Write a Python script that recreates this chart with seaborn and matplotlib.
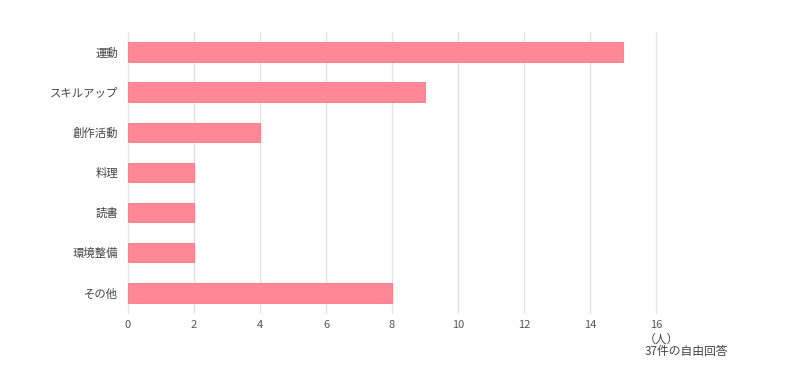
import matplotlib
matplotlib.use("Agg")
import matplotlib.pyplot as plt
import pandas as pd
import seaborn as sns

categories = ["運動", "スキルアップ", "創作活動", "料理", "読書", "環境整備", "その他"]
counts = [15, 9, 4, 2, 2, 2, 8]
x_ticks = [0, 2, 4, 6, 8, 10, 12, 14, 16]
unit_label = "（人）"
note_label = "37件の自由回答"

sns.set_theme(style="white")
plt.rcParams['font.family'] = ['Noto Sans CJK JP', 'DejaVu Sans']

df = pd.DataFrame({"category": categories, "count": counts})

fig = plt.figure(figsize=(8, 3.74), dpi=100)
ax = fig.add_axes([0.16, 0.163, 0.66, 0.752])

sns.barplot(data=df, x="count", y="category", orient="h", ax=ax,
            color="#ff8796", edgecolor="#f47a8a", linewidth=0.6,
            width=0.48, saturation=1)

ax.set_xlim(0, 16)
ax.set_ylim(6.5, -0.5)
ax.set_xticks(x_ticks)
ax.xaxis.grid(True, color="#e3e3e3", linewidth=1)
for gl in ax.get_xgridlines():
    gl.set_clip_on(False)
ax.set_axisbelow(True)
for s in ax.spines.values():
    s.set_visible(False)
ax.set_xlabel("")
ax.set_ylabel("")
ax.tick_params(axis="x", labelsize=8, labelcolor="#555555", length=0, pad=5)
ax.tick_params(axis="y", labelsize=8.2, labelcolor="#444444", length=0, pad=7)

fig.text(644 / 800, 1 - 339 / 374, unit_label, fontsize=8.5, color="#444444",
         ha="left", va="center")
fig.text(645 / 800, 1 - 352 / 374, note_label, fontsize=8.5, color="#444444",
         ha="left", va="center")

fig.savefig("out.png", dpi=100)
